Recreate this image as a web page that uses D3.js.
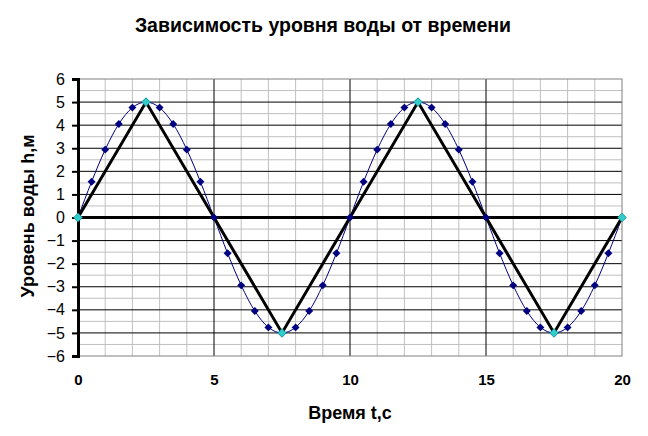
<!DOCTYPE html>
<html>
<head>
<meta charset="utf-8">
<script src="https://cdn.jsdelivr.net/npm/d3@7"></script>
<style>
  body { margin: 0; background: #fff; }
  text { font-family: "Liberation Sans", Arial, sans-serif; }
</style>
</head>
<body>
<svg width="648" height="436"></svg>
<script>
// **** data ****

// sine-like series, a point every 0.5 s
var sineT = [0,0.5,1,1.5,2,2.5,3,3.5,4,4.5,5,5.5,6,6.5,7,7.5,8,8.5,9,9.5,10,
             10.5,11,11.5,12,12.5,13,13.5,14,14.5,15,15.5,16,16.5,17,17.5,18,18.5,19,19.5,20];
var sineH = [0,1.55,2.94,4.05,4.76,5,4.76,4.05,2.94,1.55,0,-1.55,-2.94,-4.05,-4.76,-5,-4.76,-4.05,-2.94,-1.55,0,
             1.55,2.94,4.05,4.76,5,4.76,4.05,2.94,1.55,0,-1.55,-2.94,-4.05,-4.76,-5,-4.76,-4.05,-2.94,-1.55,0];

// triangle series
var triT = [0,2.5,5,7.5,10,12.5,15,17.5,20];
var triH = [0,5,0,-5,0,5,0,-5,0];

var xTicks = [0,5,10,15,20];
var yTicks = [-6,-5,-4,-3,-2,-1,0,1,2,3,4,5,6];

// **** scales ****

var xScale = d3.scaleLinear().domain([0,20]).range([78,622]);
var yScale = d3.scaleLinear().domain([-6,6]).range([356,79]);

var svg = d3.select('svg');

var sineData = sineT.map(function(t, i) { return {t: t, h: sineH[i]}; });
var triData = triT.map(function(t, i) { return {t: t, h: triH[i]}; });

// minor grid
var minorX = d3.range(1, 20, 1).filter(function(v) { return v % 5 !== 0; });
var minorY = d3.range(-5.5, 6, 1);

svg.append('g').selectAll('line').data(minorX).enter().append('line')
    .attr('x1', function(d) { return xScale(d); }).attr('x2', function(d) { return xScale(d); })
    .attr('y1', yScale(6)).attr('y2', yScale(-6))
    .attr('stroke', '#c0c0c0').attr('stroke-width', 1);

svg.append('g').selectAll('line').data(minorY).enter().append('line')
    .attr('x1', xScale(0)).attr('x2', xScale(20))
    .attr('y1', function(d) { return yScale(d); }).attr('y2', function(d) { return yScale(d); })
    .attr('stroke', '#c0c0c0').attr('stroke-width', 1);

// major grid
svg.append('g').selectAll('line').data([5,10,15]).enter().append('line')
    .attr('x1', function(d) { return xScale(d); }).attr('x2', function(d) { return xScale(d); })
    .attr('y1', yScale(6)).attr('y2', yScale(-6))
    .attr('stroke', '#000').attr('stroke-width', 1);

svg.append('g').selectAll('line').data(yTicks.filter(function(v) { return Math.abs(v) < 6 && v !== 0; }))
    .enter().append('line')
    .attr('x1', xScale(0)).attr('x2', xScale(20))
    .attr('y1', function(d) { return yScale(d); }).attr('y2', function(d) { return yScale(d); })
    .attr('stroke', '#000').attr('stroke-width', 1);

// plot border (grey)
svg.append('rect')
    .attr('x', xScale(0)).attr('y', yScale(6))
    .attr('width', xScale(20) - xScale(0)).attr('height', yScale(-6) - yScale(6))
    .attr('fill', 'none').attr('stroke', '#808080').attr('stroke-width', 1);

// y axis
var yAxis = svg.append('g').attr('transform', 'translate(' + xScale(0) + ',0)')
    .call(d3.axisLeft(yScale).tickValues(yTicks).tickSize(6).tickPadding(7));
yAxis.select('.domain').attr('stroke', '#000').attr('stroke-width', 3);
yAxis.selectAll('.tick line').attr('stroke-width', 2);
yAxis.selectAll('text').style('font-size', '16px').attr('fill', '#000')
    .style('font-family', '"Liberation Sans", Arial, sans-serif');

// x axis labels along the bottom
var xAxis = svg.append('g').attr('transform', 'translate(0,' + yScale(-6) + ')')
    .call(d3.axisBottom(xScale).tickValues(xTicks).tickSize(0).tickPadding(18));
xAxis.select('.domain').remove();
xAxis.selectAll('text').style('font-size', '15px').attr('font-weight', 'bold').attr('fill', '#000')
    .style('font-family', '"Liberation Sans", Arial, sans-serif');

// zero line
svg.append('line')
    .attr('x1', xScale(0)).attr('x2', xScale(20))
    .attr('y1', yScale(0)).attr('y2', yScale(0))
    .attr('stroke', '#000').attr('stroke-width', 3);

// sine line
var line = d3.line().x(function(d) { return xScale(d.t); }).y(function(d) { return yScale(d.h); });

svg.append('path').datum(sineData)
    .attr('d', line.curve(d3.curveMonotoneX))
    .attr('fill', 'none').attr('stroke', '#000080').attr('stroke-width', 1);

// triangle line
svg.append('path').datum(triData)
    .attr('d', d3.line().x(function(d) { return xScale(d.t); }).y(function(d) { return yScale(d.h); }))
    .attr('fill', 'none').attr('stroke', '#000').attr('stroke-width', 3);

var diamond = d3.symbol().type(d3.symbolDiamond2);

svg.append('g').selectAll('path').data(sineData).enter().append('path')
    .attr('d', diamond.size(40)())
    .attr('transform', function(d) { return 'translate(' + xScale(d.t) + ',' + yScale(d.h) + ')'; })
    .attr('fill', '#000080');

var lastTri = triData.length - 1;
svg.append('g').selectAll('path')
    .data(triData.filter(function(d, i) { return d.h !== 0 || i === 0 || i === lastTri; }))
    .enter().append('path')
    .attr('d', d3.symbol().type(d3.symbolDiamond2).size(50)())
    .attr('transform', function(d) { return 'translate(' + xScale(d.t) + ',' + yScale(d.h) + ')'; })
    .attr('fill', '#33cccc').attr('stroke', '#008080').attr('stroke-width', 0.6);

// **** titles ****

svg.append('text')
    .attr('x', 323).attr('y', 32)
    .attr('text-anchor', 'middle')
    .attr('font-size', '19.5px').attr('font-weight', 'bold')
    .text('Зависимость уровня воды от времени');

svg.append('text')
    .attr('x', 350).attr('y', 419)
    .attr('text-anchor', 'middle')
    .attr('font-size', '18px').attr('font-weight', 'bold')
    .text('Время t,с');

svg.append('text')
    .attr('transform', 'translate(34,216) rotate(-90)')
    .attr('text-anchor', 'middle')
    .attr('font-size', '18px').attr('font-weight', 'bold')
    .text('Уровень воды h,м');
</script>
</body>
</html>
